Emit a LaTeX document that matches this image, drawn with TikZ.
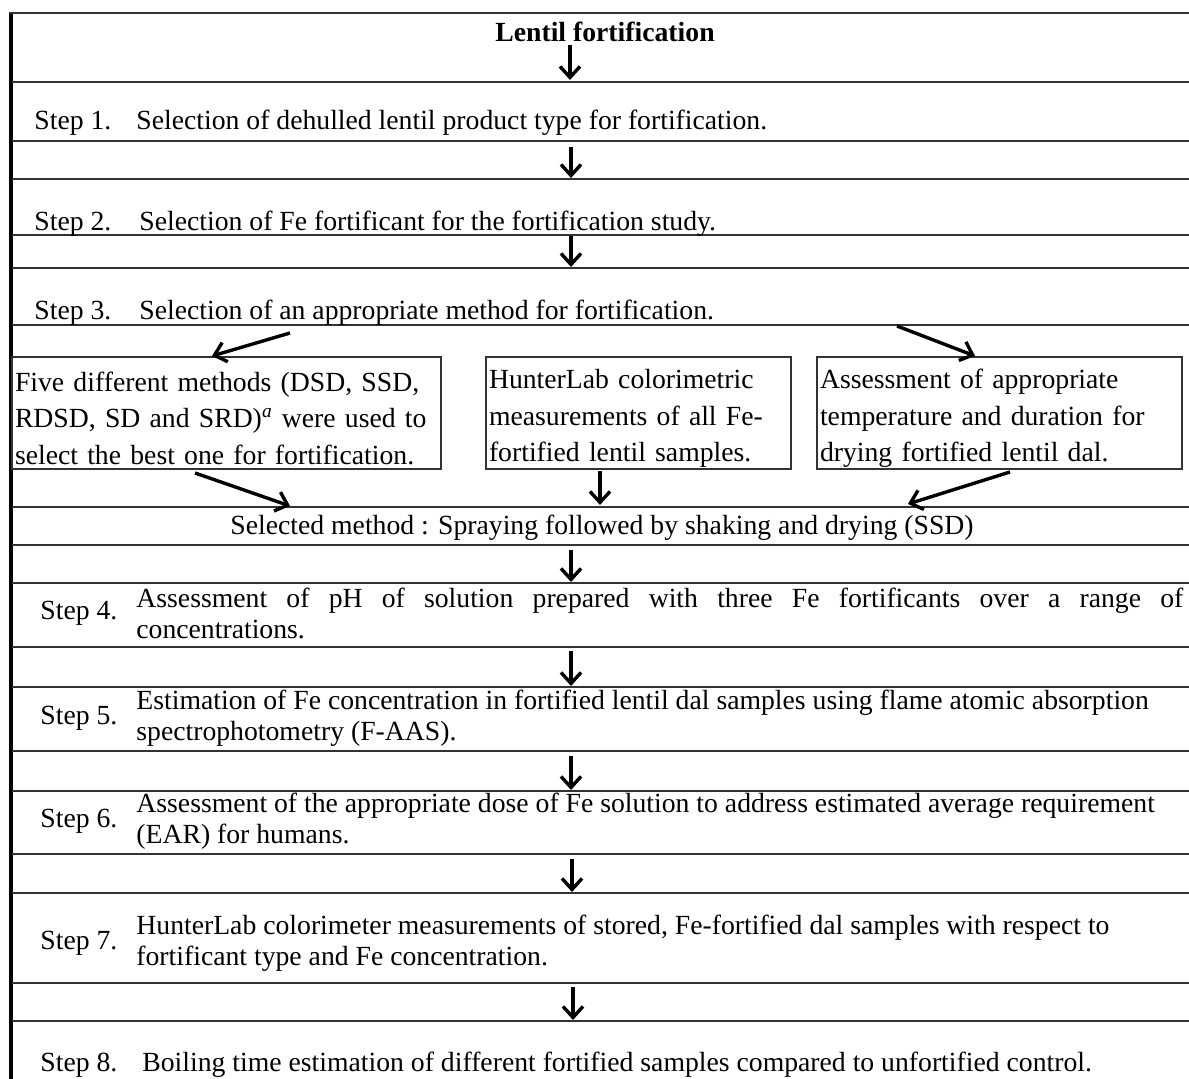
\documentclass[tikz,border=0pt]{standalone}
\usepackage{fontspec}
\setmainfont{Liberation Serif}
\usetikzlibrary{arrows.meta}

\tikzset{
  rowline/.style={draw=black!80, line width=1pt},
  arr/.style={line width=1.7pt, -{Straight Barb[length=5.5pt,width=10pt]}},
  lbl/.style={anchor=west, inner sep=0pt, font=\fontsize{13.85}{16}\selectfont},
  txt/.style={anchor=west, inner sep=0pt, align=left, font=\fontsize{13.85}{15.5}\selectfont},
  mbox/.style={draw=black!80, line width=0.8pt, inner xsep=1.5pt, inner ysep=0pt, align=left,
    minimum height=56pt, font=\fontsize{13.85}{18.25}\selectfont}
}
\newcommand{\boxstrut}{\rule{0pt}{15pt}}

\begin{document}
\begin{tikzpicture}[x=0.5pt, y=-0.5pt]
			%%%%% FRAME %%%%%
			\useasboundingbox[fill=white] (0, 0) rectangle (1189, 1079);
			\draw[line width=2pt] (11, 13) -- (11, 1079);
			\draw[rowline] (9, 13) -- (1189, 13);
			
			\draw[rowline] (12, 82) -- (1189, 82);
			\draw[rowline] (12, 141) -- (1189, 141);
			\draw[rowline] (12, 179) -- (1189, 179);
			\draw[rowline] (12, 235) -- (1189, 235);
			\draw[rowline] (12, 268) -- (1189, 268);
			\draw[rowline] (12, 325) -- (1189, 325);
			\draw[rowline] (12, 507) -- (1189, 507);
			\draw[rowline] (12, 545) -- (1189, 545);
			\draw[rowline] (12, 583) -- (1189, 583);
			\draw[rowline] (12, 647) -- (1189, 647);
			\draw[rowline] (12, 687) -- (1189, 687);
			\draw[rowline] (12, 751) -- (1189, 751);
			\draw[rowline] (12, 791) -- (1189, 791);
			\draw[rowline] (12, 854) -- (1189, 854);
			\draw[rowline] (12, 893) -- (1189, 893);
			\draw[rowline] (12, 983) -- (1189, 983);
			\draw[rowline] (12, 1021) -- (1189, 1021);
			
			%%%%% TEXT %%%%%
			\node[lbl, anchor=center, font=\fontsize{13.85}{16}\selectfont\bfseries] (title) at (605, 32) {Lentil fortification};
			
			\node[lbl] (s1) at (34, 123) {Step 1.};
			\node[txt] (t1) at (136, 123) {Selection of dehulled lentil product type for fortification.};
			\node[lbl] (s2) at (34, 224) {Step 2.};
			\node[txt] (t2) at (139, 224) {Selection of Fe fortificant for the fortification study.};
			\node[lbl] (s3) at (34, 313) {Step 3.};
			\node[txt] (t3) at (139, 313) {Selection of an appropriate method for fortification.};
			
			\node[mbox, text width=211.5pt] (fivebox) at (226.5, 413)
			  {\boxstrut\makebox[207.5pt][s]{Five different methods (DSD, SSD,}\\RDSD, SD and SRD)\textsuperscript{\textit{a}} were used to\\\makebox[207.5pt][s]{select the best one for fortification.}};
			\node[mbox, text width=149.5pt] (huntbox) at (638.5, 413)
			  {\boxstrut HunterLab colorimetric\\measurements of all Fe-\\fortified lentil samples.};
			\node[mbox, text width=179.5pt] (drybox) at (999.5, 413)
			  {\boxstrut Assessment of appropriate\\temperature and duration for\\drying fortified lentil dal.};
			
			\node[lbl, anchor=center] (sel) at (602, 528) {Selected method : Spraying followed by shaking and drying (SSD)};
			
			\node[lbl] (s4) at (40, 613) {Step 4.};
			\node[txt] (t4) at (136, 613) {\makebox[523.5pt][s]{Assessment of pH of solution prepared with three Fe fortificants over a range of}\\concentrations.};
			\node[lbl] (s5) at (40, 718) {Step 5.};
			\node[txt] (t5) at (136, 718) {Estimation of Fe concentration in fortified lentil dal samples using flame atomic absorption\\spectrophotometry (F-AAS).};
			\node[lbl] (s6) at (40, 821) {Step 6.};
			\node[txt] (t6) at (136, 821) {Assessment of the appropriate dose of Fe solution to address estimated average requirement\\(EAR) for humans.};
			\node[lbl] (s7) at (40, 943) {Step 7.};
			\node[txt] (t7) at (136, 943) {HunterLab colorimeter measurements of stored, Fe-fortified dal samples with respect to\\fortificant type and Fe concentration.};
			\node[lbl] (s8) at (40, 1065) {Step 8.};
			\node[txt] (t8) at (142, 1065) {Boiling time estimation of different fortified samples compared to unfortified control.};
			
			%%%%% ARROWS %%%%%
			\coordinate (v0a) at (570, 45);   \coordinate (v0b) at (570, 80);
			\coordinate (v1a) at (571, 147);  \coordinate (v1b) at (571, 178);
			\coordinate (v2a) at (571, 236);  \coordinate (v2b) at (571, 267);
			\coordinate (v4a) at (571, 550);  \coordinate (v4b) at (571, 582);
			\coordinate (v5a) at (571, 651);  \coordinate (v5b) at (571, 686);
			\coordinate (v6a) at (571, 756);  \coordinate (v6b) at (571, 790);
			\coordinate (v7a) at (572, 859);  \coordinate (v7b) at (572, 892);
			\coordinate (v8a) at (573, 987);  \coordinate (v8b) at (573, 1020);
			
			\draw[arr] (v0a) -- (v0b);
			\draw[arr] (v1a) -- (v1b);
			\draw[arr] (v2a) -- (v2b);
			\draw[arr] (v4a) -- (v4b);
			\draw[arr] (v5a) -- (v5b);
			\draw[arr] (v6a) -- (v6b);
			\draw[arr] (v7a) -- (v7b);
			\draw[arr] (v8a) -- (v8b);
			
			\coordinate (d1a) at (290, 333);  \coordinate (d1b) at (212, 356);
			\coordinate (d2a) at (897, 326);  \coordinate (d2b) at (975, 356);
			\coordinate (d3a) at (195, 473);  \coordinate (d3b) at (290, 506);
			\coordinate (d4a) at (600, 471);  \coordinate (d4b) at (600, 505);
			\coordinate (d5a) at (1010, 472); \coordinate (d5b) at (908, 504);
			
			\draw[arr] (d1a) -- (d1b);
			\draw[arr] (d2a) -- (d2b);
			\draw[arr] (d3a) -- (d3b);
			\draw[arr] (d4a) -- (d4b);
			\draw[arr] (d5a) -- (d5b);
\end{tikzpicture}
\end{document}
